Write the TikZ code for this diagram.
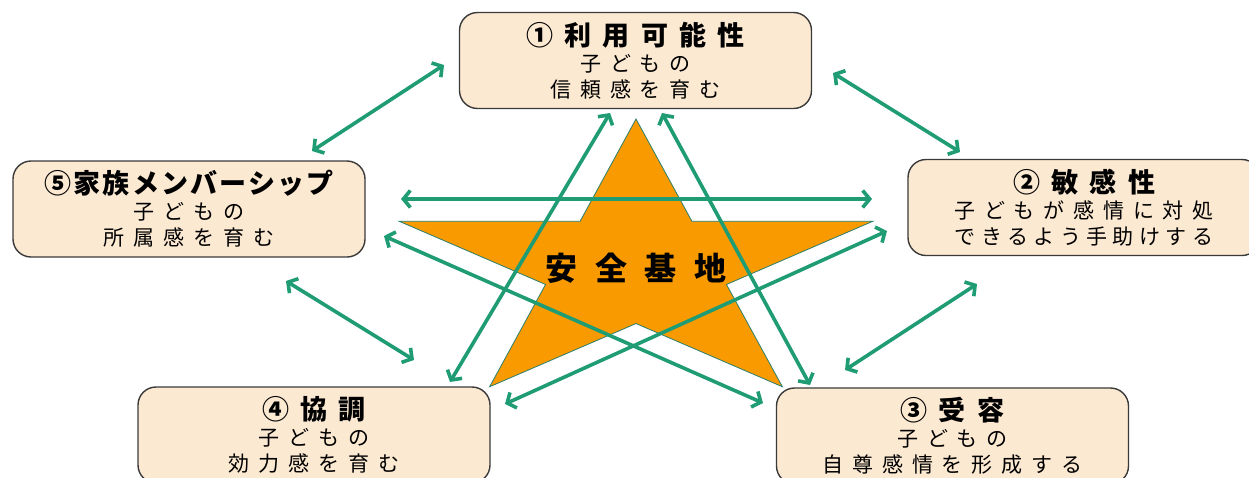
\documentclass[tikz,border=0pt]{standalone}
\usepackage{fontspec}
\setmainfont{Noto Sans CJK JP}[LetterSpace=42]
\newfontfamily\tightfont{Noto Sans CJK JP}[LetterSpace=26]
\newfontfamily\basefont{Noto Sans CJK JP}[LetterSpace=55]
\usepackage{xcolor}
\usetikzlibrary{arrows.meta, positioning, calc}
\definecolor{boxfill}{HTML}{FCE9D2}
\definecolor{boxline}{HTML}{3A3A3A}
\definecolor{starorange}{HTML}{F89A00}
\definecolor{staredge}{HTML}{2A7F6C}
\definecolor{linkgreen}{HTML}{1F9C74}
\tikzstyle{stage} = [rectangle, rounded corners=18pt, minimum width=352pt, minimum height=96pt, draw=boxline, line width=1.4pt, fill=boxfill, align=center, font=\fontsize{21}{26}\selectfont]
\tikzstyle{link} = [draw=linkgreen, line width=3.6pt, {Straight Barb[length=7pt,width=17pt]}-{Straight Barb[length=7pt,width=17pt]}]
\tikzstyle{basestar} = [fill=starorange, draw=staredge, line width=0.8pt]
\newcommand{\stagetitle}[1]{{\fontsize{27}{30}\selectfont\bfseries #1}\\[0pt]}

\begin{document}
\begin{tikzpicture}[x=1pt, y=-1pt]
    \useasboundingbox (0,0) rectangle (1249,477);
    % Star
    \draw [basestar, shift={(636,267)}] (-90:249 and 148)
        \foreach \a/\r in {-54/0.382, -18/1, 18/0.382, 54/1, 90/0.382, 126/1, 162/0.382, 198/1, 234/0.382} {-- (\a:{249*\r} and {148*\r})} -- cycle;
    \node (base) at (636,268) [font=\fontsize{32}{36}\basefont\bfseries] {安全基地};

    % Stages
    \node (avail) [stage] at (635.5,60.5) {\stagetitle{①利用可能性}子どもの\\信頼感を育む};
    \node (sense) [stage] at (1084,207.5) {\stagetitle{②敏感性}子どもが感情に対処\\{\tightfont できるよう手助けする}};
    \node (accept) [stage] at (952.5,436) {\stagetitle{③受容}子どもの\\自尊感情を形成する};
    \node (coop) [stage] at (314,435) {\stagetitle{④協調}子どもの\\効力感を育む};
    \node (family) [stage] at (189,209) {\stagetitle{\addfontfeatures{LetterSpace=8}⑤家族メンバーシップ}子どもの\\所属感を育む};

    % Arrow ends
    \coordinate (family-a) at (312,151);
    \coordinate (avail-f) at (444,65);
    \coordinate (avail-s) at (833,73);
    \coordinate (sense-a) at (960,152);
    \coordinate (sense-c) at (977,284);
    \coordinate (accept-s) at (845,370);
    \coordinate (family-c) at (286,281);
    \coordinate (coop-f) at (414,360);
    \coordinate (family-s) at (401,199);
    \coordinate (sense-f) at (872,199);
    \coordinate (coop-a) at (450,382);
    \coordinate (avail-c) at (610,113);
    \coordinate (avail-ac) at (662,113);
    \coordinate (accept-a) at (810,385);
    \coordinate (family-ac) at (384,236);
    \coordinate (accept-f) at (763,403);
    \coordinate (coop-s) at (505,404);
    \coordinate (sense-co) at (887,231);

    % Arrows
    \draw [link] (family-a) -- (avail-f);
    \draw [link] (avail-s) -- (sense-a);
    \draw [link] (sense-c) -- (accept-s);
    \draw [link] (family-c) -- (coop-f);
    \draw [link] (family-s) -- (sense-f);
    \draw [link] (coop-a) -- (avail-c);
    \draw [link] (avail-ac) -- (accept-a);
    \draw [link] (family-ac) -- (accept-f);
    \draw [link] (coop-s) -- (sense-co);
\end{tikzpicture}
\end{document}
